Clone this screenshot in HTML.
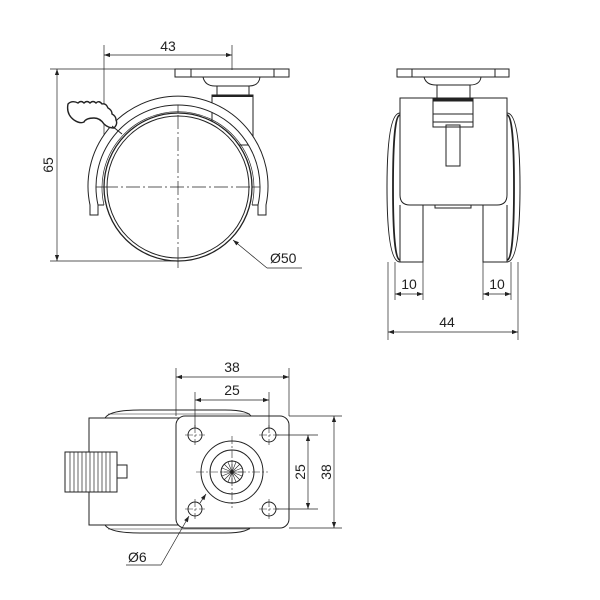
<!DOCTYPE html>
<html><head><style>
body{margin:0;background:#fff}
svg{display:block}
text{font-family:"Liberation Sans",sans-serif;font-size:14px;fill:#222}
</style></head><body>
<svg width="600" height="600" viewBox="0 0 600 600" xmlns="http://www.w3.org/2000/svg">
<defs>
<marker id="a" viewBox="0 0 10 10" refX="10" refY="5" markerWidth="9" markerHeight="6" orient="auto-start-reverse" markerUnits="userSpaceOnUse"><path d="M0,1.5 L10,5 L0,8.5z" fill="#222"/></marker>
</defs>
<g stroke="#222" fill="none" stroke-width="1">
<!-- VIEW 1 -->
<g stroke-width="0.7">
<line x1="104" y1="45" x2="104" y2="140"/>
<line x1="232" y1="45" x2="232" y2="70"/>
<line x1="50" y1="69" x2="175" y2="69"/>
<line x1="50" y1="261" x2="180" y2="261"/>
<line x1="104" y1="55" x2="232" y2="55" marker-start="url(#a)" marker-end="url(#a)"/>
<line x1="57" y1="69" x2="57" y2="261" marker-start="url(#a)" marker-end="url(#a)"/>
<line x1="233" y1="240" x2="267" y2="268" marker-start="url(#a)"/>
<line x1="267" y1="268" x2="302" y2="268"/>
<line x1="178" y1="100" x2="178" y2="270" stroke-dasharray="14,3,2,3"/>
<line x1="95" y1="187" x2="262" y2="187" stroke-dasharray="14,3,2,3"/>
</g>
<rect x="175" y="69" width="114" height="8"/>
<line x1="191" y1="69" x2="191" y2="77"/><line x1="274" y1="69" x2="274" y2="77"/>
<path d="M203,77 Q205,86 215,86 L249,86 Q259,86 260,77"/>
<rect x="217" y="86" width="32" height="9"/>
<rect x="212" y="95" width="41" height="50" fill="#fff"/>
<line x1="212" y1="96" x2="253" y2="96" stroke-width="2"/>
<path d="M90,205 A90,90 0 1 1 266,205 L266,215 L258,215 L258,205 A82,82 0 1 0 98,205 L98,215 L90,215 Z" fill="#fff"/>
<path d="M98,205 L104,205 M252,205 L258,205"/>
<path d="M104,205 A76,76 0 1 1 252,205" stroke-width="0.7"/>
<circle cx="178" cy="187" r="74" fill="#fff" stroke-width="1.3"/>
<circle cx="178" cy="187" r="71"/>
<line x1="178" y1="115" x2="178" y2="262" stroke-width="0.7" stroke-dasharray="14,3,2,3"/>
<line x1="104" y1="187" x2="252" y2="187" stroke-width="0.7" stroke-dasharray="14,3,2,3"/>
<path d="M68,104 Q72,100 78,103 Q81,100 84,103 Q87,100 90,103 Q93,100 96,103 Q99,100 102,104 Q106,103 108,108 Q112,110 112,114 Q116,116 116,120 Q118,124 114,128 Q108,128 104,124 Q100,118 94,118 Q86,118 84,122 Q80,124 74,120 Q66,114 68,104 Z" stroke-width="1.4" fill="#fff"/>
<line x1="112" y1="126" x2="122" y2="134"/>
<!-- VIEW 2 -->
<rect x="397" y="69" width="112" height="8"/>
<line x1="412" y1="69" x2="412" y2="77"/><line x1="495" y1="69" x2="495" y2="77"/>
<path d="M424,77 Q426,85 436,85 L470,85 Q480,85 481,77"/>
<rect x="437" y="85" width="33" height="13"/>
<path d="M400,113 Q387,113 387,187 Q387,262 400,262" />
<path d="M400,115 Q393,115 393,187 Q393,260 400,260" stroke-width="1.8"/>
<path d="M507,113 Q520,113 520,187 Q520,262 507,262"/>
<path d="M507,115 Q514,115 514,187 Q514,260 507,260" stroke-width="1.8"/>
<path d="M400,98 L507,98 L507,195 Q507,205 497,205 L410,205 Q400,205 400,195 Z" fill="#fff"/>
<rect x="433" y="98" width="40" height="29" fill="#fff"/>
<line x1="433" y1="100" x2="473" y2="100" stroke-width="3"/>
<line x1="433" y1="114" x2="473" y2="114"/><line x1="433" y1="122" x2="473" y2="122"/>
<rect x="446" y="125" width="14" height="41"/>
<rect x="435" y="205" width="36" height="3"/>
<polyline points="400,205 400,262 423,262 423,205"/>
<polyline points="483,205 483,262 507,262 507,205"/>
<g stroke-width="0.7">
<line x1="388" y1="262" x2="388" y2="340"/><line x1="518" y1="262" x2="518" y2="340"/>
<line x1="423" y1="262" x2="423" y2="300"/><line x1="483" y1="262" x2="483" y2="300"/>
<line x1="395" y1="262" x2="395" y2="300"/><line x1="511" y1="262" x2="511" y2="300"/>
<line x1="395" y1="294" x2="423" y2="294" marker-start="url(#a)" marker-end="url(#a)"/>
<line x1="483" y1="294" x2="511" y2="294" marker-start="url(#a)" marker-end="url(#a)"/>
<line x1="388" y1="332" x2="518" y2="332" marker-start="url(#a)" marker-end="url(#a)"/>
</g>
<!-- VIEW 3 -->
<path d="M105,418 Q110,410 140,410 L225,410 Q250,410 252,418"/>
<path d="M105,525 Q110,533 140,533 L225,533 Q250,533 252,525"/>
<line x1="108" y1="414" x2="250" y2="414" stroke-width="0.6"/>
<line x1="108" y1="529" x2="250" y2="529" stroke-width="0.6"/>
<rect x="89" y="418" width="100" height="107" fill="#fff"/>
<rect x="65" y="452" width="52" height="40" fill="#fff"/>
<g stroke-width="0.7">
<line x1="70" y1="452" x2="70" y2="492"/><line x1="74" y1="452" x2="74" y2="492"/><line x1="78" y1="452" x2="78" y2="492"/><line x1="82" y1="452" x2="82" y2="492"/><line x1="86" y1="452" x2="86" y2="492"/><line x1="90" y1="452" x2="90" y2="492"/><line x1="94" y1="452" x2="94" y2="492"/><line x1="98" y1="452" x2="98" y2="492"/><line x1="102" y1="452" x2="102" y2="492"/><line x1="106" y1="452" x2="106" y2="492"/><line x1="110" y1="452" x2="110" y2="492"/>
</g>
<rect x="117" y="465" width="10" height="13"/>
<rect x="176" y="416" width="113" height="112" rx="9" fill="#fff"/>
<circle cx="195" cy="435" r="7"/><circle cx="269" cy="435" r="7"/>
<circle cx="195" cy="509" r="7"/><circle cx="269" cy="509" r="7"/>
<circle cx="232" cy="472" r="31"/><circle cx="232" cy="472" r="22"/>
<circle cx="232" cy="472" r="11"/>
<g stroke-width="0.6">
<path d="M221,472H243M232,461V483M224,464L240,480M240,464L224,480M222,468L242,476M222,476L242,468M228,462L236,482M236,462L228,482"/>
</g>
<g stroke-width="0.6" stroke-dasharray="8,2,2,2">
<line x1="185" y1="435" x2="205" y2="435"/><line x1="195" y1="425" x2="195" y2="445"/>
<line x1="259" y1="435" x2="279" y2="435"/><line x1="269" y1="425" x2="269" y2="445"/>
<line x1="185" y1="509" x2="205" y2="509"/><line x1="195" y1="499" x2="195" y2="519"/>
<line x1="259" y1="509" x2="279" y2="509"/><line x1="269" y1="499" x2="269" y2="519"/>
<line x1="196" y1="472" x2="268" y2="472"/><line x1="232" y1="436" x2="232" y2="508"/>
</g>
<g stroke-width="0.7">
<line x1="176" y1="368" x2="176" y2="416"/><line x1="289" y1="368" x2="289" y2="416"/>
<line x1="195" y1="392" x2="195" y2="428"/><line x1="269" y1="392" x2="269" y2="428"/>
<line x1="176" y1="377" x2="289" y2="377" marker-start="url(#a)" marker-end="url(#a)"/>
<line x1="195" y1="400" x2="269" y2="400" marker-start="url(#a)" marker-end="url(#a)"/>
<line x1="289" y1="416" x2="342" y2="416"/><line x1="289" y1="528" x2="342" y2="528"/>
<line x1="276" y1="435" x2="318" y2="435"/><line x1="276" y1="509" x2="318" y2="509"/>
<line x1="308" y1="435" x2="308" y2="509" marker-start="url(#a)" marker-end="url(#a)"/>
<line x1="334" y1="416" x2="334" y2="528" marker-start="url(#a)" marker-end="url(#a)"/>
<line x1="189" y1="516" x2="161" y2="565" marker-start="url(#a)"/>
<line x1="161" y1="565" x2="126" y2="565"/>
<line x1="200" y1="503" x2="206" y2="494" marker-end="url(#a)"/>
</g>
</g>
<text x="168" y="51" text-anchor="middle">43</text>
<text x="48" y="165" dy="5" text-anchor="middle" transform="rotate(-90 48 165)">65</text>
<text x="270" y="263">Ø50</text>
<text x="409" y="289" text-anchor="middle">10</text>
<text x="497" y="289" text-anchor="middle">10</text>
<text x="447" y="327" text-anchor="middle">44</text>
<text x="232" y="372" text-anchor="middle">38</text>
<text x="232" y="395" text-anchor="middle">25</text>
<text x="128" y="562">Ø6</text>
<text x="300" y="472" dy="5" text-anchor="middle" transform="rotate(-90 300 472)">25</text>
<text x="326" y="472" dy="5" text-anchor="middle" transform="rotate(-90 326 472)">38</text>
</svg>
</body></html>
